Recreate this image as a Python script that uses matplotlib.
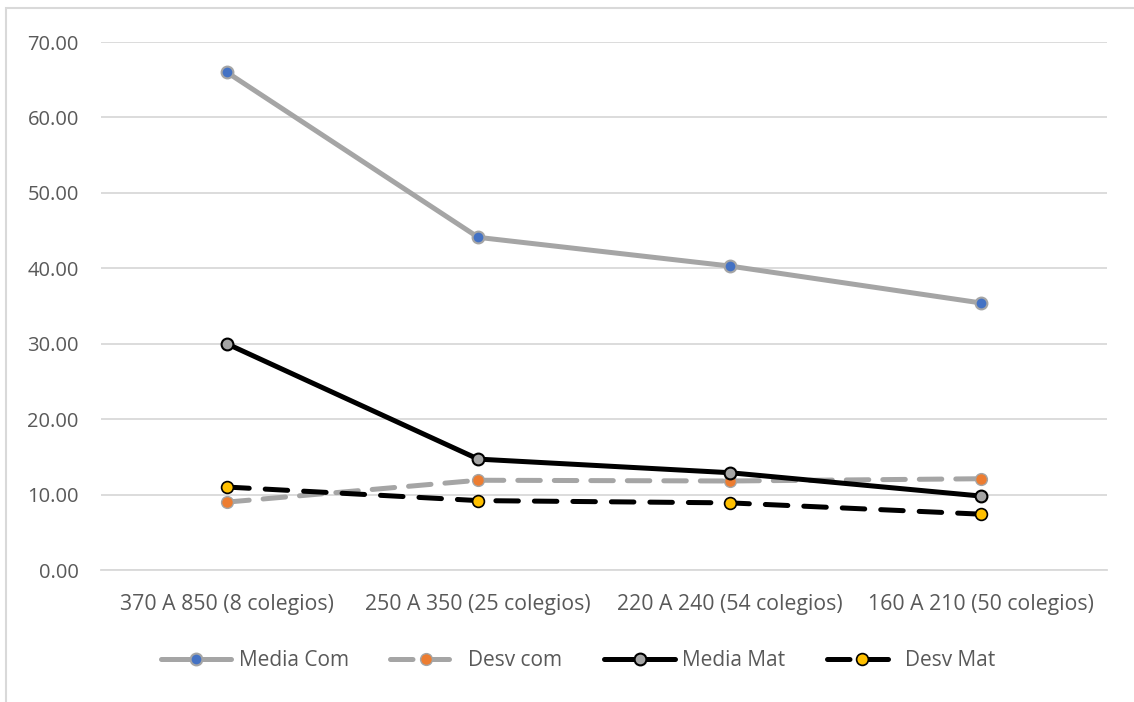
import matplotlib
matplotlib.use("Agg")
import matplotlib.pyplot as plt
from matplotlib.patches import Rectangle

categories = ["370 A 850 (8 colegios)", "250 A 350 (25 colegios)",
              "220 A 240 (54 colegios)", "160 A 210 (50 colegios)"]
media_com = [66.0, 44.1, 40.3, 35.4]
desv_com = [9.0, 11.9, 11.8, 12.1]
media_mat = [30.0, 14.7, 12.9, 9.8]
desv_mat = [11.0, 9.2, 8.9, 7.4]
yticks = [0, 10, 20, 30, 40, 50, 60, 70]

plt.rcParams['font.family'] = ['Open Sans', 'DejaVu Sans']
FS = 14.5
TXT = '#595959'
GRAY = '#A5A5A5'

fig = plt.figure(figsize=(11.34, 7.02), dpi=100)
ax = fig.add_axes([101/1134, 132/702, 1006/1134, 528/702])

x = list(range(len(categories)))
lw = 3.6
ms = 8.5
ax.plot(x, media_com, color=GRAY, lw=lw, marker='o', ms=ms,
        mfc='#4472C4', mec=GRAY, mew=1.5, label='Media Com', zorder=3,
        solid_capstyle='round')
ax.plot(x, desv_com, color=GRAY, lw=lw, ls=(0, (4.5, 2.8)), marker='o', ms=ms,
        mfc='#ED7D31', mec=GRAY, mew=1.0, label='Desv com', zorder=4,
        dash_capstyle='round')
ax.plot(x, media_mat, color='black', lw=lw, marker='o', ms=ms,
        mfc=GRAY, mec='black', mew=1.5, label='Media Mat', zorder=5,
        solid_capstyle='round')
ax.plot(x, desv_mat, color='black', lw=lw, ls=(0, (4.5, 3.2)), marker='o', ms=ms,
        mfc='#FFC000', mec='black', mew=1.2, label='Desv Mat', zorder=6,
        dash_capstyle='round')

ax.set_xlim(-0.5, len(categories) - 0.5)
ax.set_ylim(0, 70)
ax.set_yticks(yticks)
ax.set_yticklabels([f"{v:.2f}" for v in yticks])
ax.set_xticks(x)
ax.set_xticklabels(categories)
ax.tick_params(axis='both', length=0, labelsize=FS, labelcolor=TXT)
ax.tick_params(axis='x', labelsize=15.3, pad=17)
ax.tick_params(axis='y', pad=16)
ax.grid(axis='y', color='#D9D9D9', lw=1.3, zorder=0)
ax.set_axisbelow(True)
for s in ['top', 'right', 'left']:
    ax.spines[s].set_visible(False)
ax.spines['bottom'].set_color('#D9D9D9')
ax.spines['bottom'].set_linewidth(1.3)

leg = fig.legend(loc='center', bbox_to_anchor=(578/1134, 1 - 661/702), ncol=4,
                 frameon=False, fontsize=15, handlelength=3.4, handletextpad=0.35,
                 columnspacing=2.0, labelcolor=TXT)

# outer chart border (cropped at right and bottom)
fig.patches.append(Rectangle((6/1134, -0.1), 1.2, (702 - 8)/702 + 0.1,
                             transform=fig.transFigure, fill=False,
                             ec='#D9D9D9', lw=1.5, zorder=-1))

fig.savefig('out.png', dpi=100)
